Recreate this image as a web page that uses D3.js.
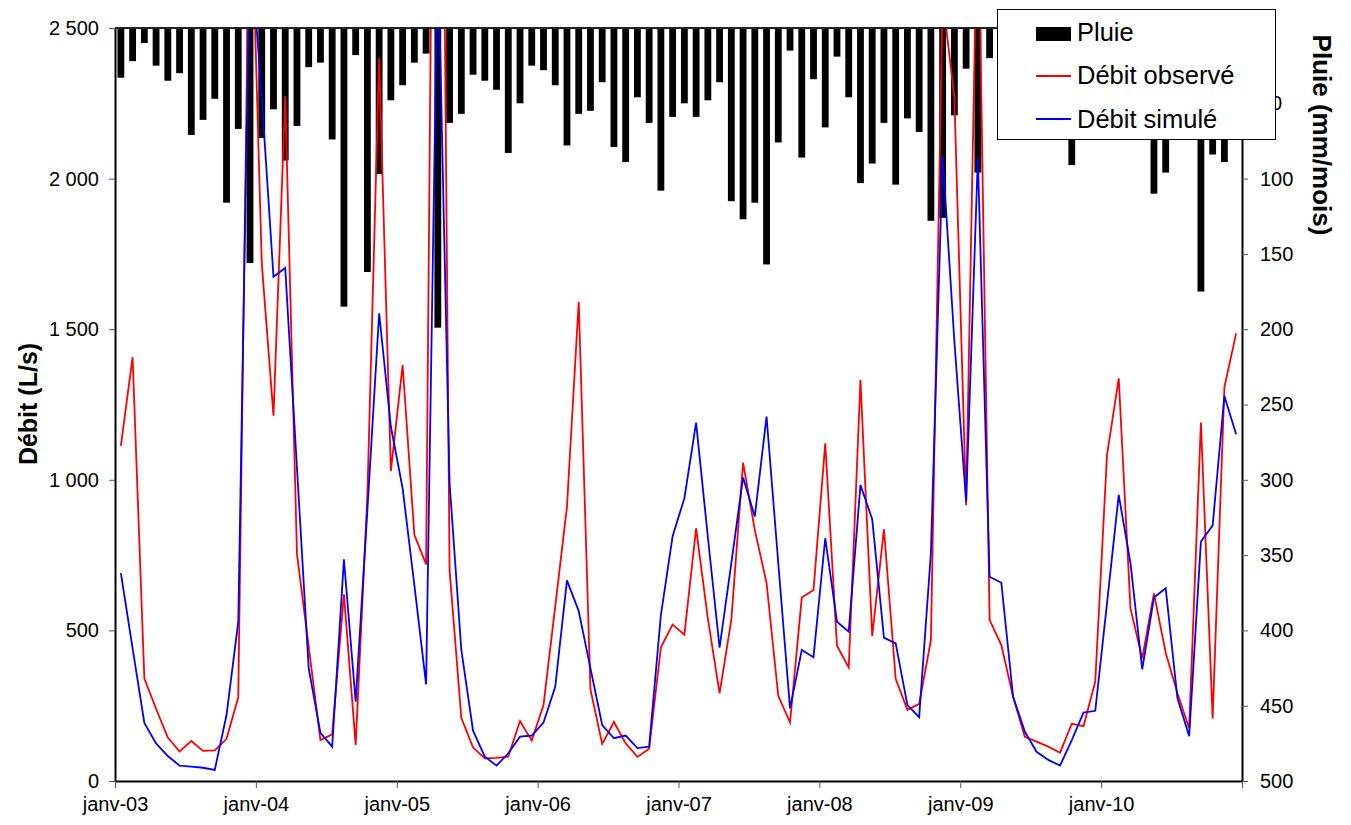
<!DOCTYPE html>
<html>
<head>
  <meta charset="utf-8">
  <title>Pluie et débits</title>
  <script src="https://d3js.org/d3.v7.min.js"></script>
  <style>
    body { margin: 0; background: #fff; }
    svg text { font-family: "Liberation Sans", Arial, sans-serif; fill: #000; }
  </style>
</head>
<body>
  <svg id="chart"></svg>

  <script>
    // Year labels for the category axis (one tick every 12 months)
    var years = ["03", "04", "05", "06", "07", "08", "09", "10"];

    // Monthly rain, mm/month, janv-03 .. déc-10
    var pluie = [
      33, 22, 10, 25, 35, 30, 71, 61, 47, 116, 67, 156,
      73, 54, 88, 65, 26, 23, 74, 185, 18, 162, 97, 48,
      38, 23, 17, 199, 63, 57, 31, 35, 41, 83, 50, 25,
      28, 38, 78, 57, 55, 36, 79, 89, 46, 63, 108, 59,
      50, 59, 48, 36, 115, 127, 116, 157, 76, 15, 86, 34,
      66, 19, 46, 103, 90, 63, 104, 60, 69, 128, 126, 58,
      27, 96, 20, 45, 30, 25, 40, 55, 35, 91, 60, 45,
      65, 50, 35, 55, 110, 96, 30, 45, 175, 84, 89, 50
    ];

    // Observed discharge, L/s
    var debitObserve = [
      1113, 1407, 340, 240, 144, 98, 133, 100, 102, 140, 278, 3100,
      1720, 1213, 2274, 754, 446, 136, 155, 620, 120, 950, 2400, 1029,
      1381, 817, 719, 5200, 700, 210, 111, 75, 77, 81, 199, 134,
      252, 580, 911, 1591, 304, 123, 196, 125, 80, 107, 444, 519,
      486, 839, 540, 291, 535, 1057, 833, 658, 283, 194, 609, 634,
      1121, 449, 377, 1331, 481, 836, 339, 236, 256, 468, 2600, 2270,
      916, 3000, 535, 451, 280, 147, 131, 114, 94, 190, 182, 330,
      1082, 1337, 573, 407, 623, 426, 291, 175, 1190, 208, 1307, 1486
    ];

    // Simulated discharge, L/s
    var debitSimule = [
      690, 440, 193, 125, 83, 51, 48, 44, 37, 219, 529, 2800,
      2270, 1674, 1703, 1040, 374, 160, 114, 736, 263, 900, 1553, 1176,
      972, 650, 321, 2780, 990, 435, 167, 81, 51, 92, 147, 151,
      194, 313, 666, 564, 374, 186, 142, 151, 109, 114, 551, 813,
      939, 1190, 810, 443, 723, 1008, 878, 1210, 723, 241, 435, 411,
      806, 529, 496, 983, 869, 476, 457, 252, 212, 756, 2075, 1460,
      927, 2070, 678, 658, 280, 164, 97, 70, 51, 136, 227, 233,
      590, 950, 723, 371, 609, 640, 275, 149, 795, 848, 1278, 1151
    ];

    var debitTicks = [0, 500, 1000, 1500, 2000, 2500];
    var pluieTicks = d3.range(0, 501, 50);

    var width = 1351, height = 825;
    var plotLeft = 115, plotRight = 1242, plotTop = 28, plotBottom = 781;

    var svg = d3.select("#chart")
                .attr("width", width)
                .attr("height", height);

    var months = pluie.map(function(d, i) { return i; });

    // Category scale for bars, linear one for the year ticks
    var x = d3.scaleBand()
              .domain(months)
              .range([plotLeft, plotRight])
              .paddingInner(0.42)
              .paddingOuter(0.21);
    var xYear = d3.scaleLinear().domain([0, 96]).range([plotLeft, plotRight]);
    var cx = function(i) { return x(i) + x.bandwidth() / 2; };

    var yDebit = d3.scaleLinear().domain([0, 2500]).range([plotBottom, plotTop]);
    var yPluie = d3.scaleLinear().domain([0, 500]).range([plotTop, plotBottom]);

    var fr = d3.formatLocale({ decimal: ",", thousands: " ", grouping: [3], currency: ["", ""] });
    var fmt = fr.format(",");

    svg.append("defs").append("clipPath").attr("id", "plot")
       .append("rect")
       .attr("x", plotLeft).attr("y", plotTop)
       .attr("width", plotRight - plotLeft).attr("height", plotBottom - plotTop);

    // Rain bars hanging from the top
    svg.append("g")
       .selectAll("rect")
       .data(pluie)
       .enter().append("rect")
       .attr("x", function(d, i) { return x(i); })
       .attr("y", yPluie(0))
       .attr("width", x.bandwidth())
       .attr("height", function(d) { return yPluie(d) - yPluie(0); })
       .attr("fill", "#000");

    // Discharge lines
    var line = d3.line()
                 .x(function(d, i) { return cx(i); })
                 .y(function(d) { return yDebit(d); });

    var lines = svg.append("g").attr("clip-path", "url(#plot)");
    lines.append("path")
         .datum(debitObserve)
         .attr("d", line)
         .attr("fill", "none")
         .attr("stroke", "#ff0000")
         .attr("stroke-width", 1.8);
    lines.append("path")
         .datum(debitSimule)
         .attr("d", line)
         .attr("fill", "none")
         .attr("stroke", "#0000ff")
         .attr("stroke-width", 1.8);

    // Top baseline of the rain axis
    svg.append("line")
       .attr("x1", plotLeft).attr("x2", plotRight)
       .attr("y1", plotTop).attr("y2", plotTop)
       .attr("stroke", "#222")
       .attr("stroke-width", 2);

    // Left axis
    var gl = svg.append("g")
                .attr("transform", "translate(" + plotLeft + ",0)")
                .call(d3.axisLeft(yDebit).tickValues(debitTicks).tickFormat(fmt)
                        .tickSize(6).tickPadding(10).tickSizeOuter(0));

    // Right axis
    var gr = svg.append("g")
                .attr("transform", "translate(" + plotRight + ",0)")
                .call(d3.axisRight(yPluie).tickValues(pluieTicks)
                        .tickSize(6).tickPadding(12).tickSizeOuter(0));

    // Bottom axis, ticks at each January
    var gb = svg.append("g")
                .attr("transform", "translate(0," + plotBottom + ")")
                .call(d3.axisBottom(xYear).tickValues(d3.range(0, 97, 12))
                        .tickFormat(function(d) { return d < 96 ? "janv-" + years[d / 12] : ""; })
                        .tickSize(7).tickPadding(9).tickSizeOuter(0));

    [gl, gr, gb].forEach(function(g) {
      g.select(".domain").attr("stroke", "#000").attr("stroke-width", 2);
      g.selectAll(".tick line").attr("stroke", "#555");
      g.selectAll(".tick text").attr("font-size", 20);
    });

    // Axis titles
    svg.append("text")
       .attr("transform", "translate(28,404) rotate(-90)")
       .attr("text-anchor", "middle")
       .attr("dy", "0.35em")
       .attr("font-size", 25)
       .attr("font-weight", "bold")
       .text("Débit (L/s)");

    svg.append("text")
       .attr("transform", "translate(1322,135) rotate(90)")
       .attr("text-anchor", "middle")
       .attr("dy", "0.35em")
       .attr("font-size", 26)
       .attr("font-weight", "bold")
       .text("Pluie (mm/mois)");

    // Legend
    var lg = svg.append("g");
    lg.append("rect")
      .attr("x", 997.5).attr("y", 9.5)
      .attr("width", 278).attr("height", 130)
      .attr("fill", "#fff")
      .attr("stroke", "#000")
      .attr("stroke-width", 1);

    lg.append("rect")
      .attr("x", 1036).attr("y", 27)
      .attr("width", 35).attr("height", 14)
      .attr("fill", "#000");
    lg.append("line")
      .attr("x1", 1036).attr("x2", 1071)
      .attr("y1", 76).attr("y2", 76)
      .attr("stroke", "#ff0000").attr("stroke-width", 1.8);
    lg.append("line")
      .attr("x1", 1036).attr("x2", 1071)
      .attr("y1", 119).attr("y2", 119)
      .attr("stroke", "#0000ff").attr("stroke-width", 1.8);

    var legendText = ["Pluie", "Débit observé", "Débit simulé"];
    var legendY = [41, 84, 127.5];
    lg.selectAll("text.leg")
      .data(legendText)
      .enter().append("text")
      .attr("class", "leg")
      .attr("x", 1077)
      .attr("y", function(d, i) { return legendY[i]; })
      .attr("font-size", 25.5)
      .text(function(d) { return d; });
  </script>
</body>
</html>
